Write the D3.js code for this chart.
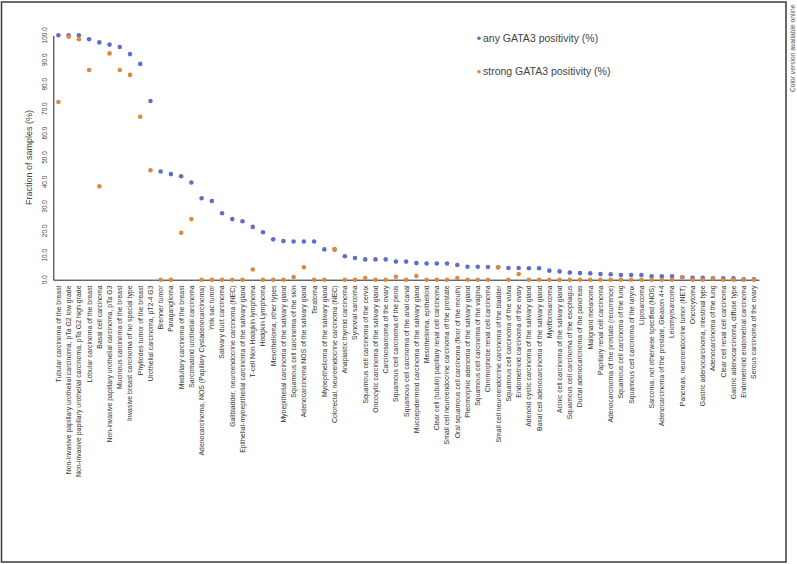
<!DOCTYPE html>
<html><head><meta charset="utf-8">
<script src="https://cdn.jsdelivr.net/npm/d3@7"></script>
<style>body{margin:0;background:#fff}svg{display:block;font-family:"Liberation Sans",Arial,sans-serif}</style>
</head><body>
<script>
const categories = ["Tubular carcinoma of the breast","Non-invasive papillary urothelial carcinoma, pTa G2 low grade","Non-invasive papillary urothelial carcinoma, pTa G2 high grade","Lobular carcinoma of the breast","Basal cell carcinoma","Non-invasive papillary urothelial carcinoma, pTa G3","Mucinous carcinoma of the breast","Invasive breast carcinoma of no special type","Phyllodes tumor of the breast","Urothelial carcinoma, pT2-4 G3","Brenner tumor","Paraganglioma","Medullary carcinoma of the breast","Sarcomatoid urothelial carcinoma","Adenocarcinoma, NOS (Papillary Cystadenocarcinoma)","Yolk sac tumor","Salivary duct carcinoma","Gallbladder, neuroendocrine carcinoma (NEC)","Epithelial-myoepithelial carcinoma of the salivary gland","T-cell Non Hodgkin lymphoma","Hodgkin Lymphoma","Mesothelioma, other types","Myoepithelial carcinoma of the salivary gland","Squamous cell carcinoma of the skin","Adenocarcinoma NOS of the salivary gland","Teratoma","Myoepithelioma of the salivary gland","Colorectal, neuroendocrine carcinoma (NEC)","Anaplastic thyroid carcinoma","Synovial sarcoma","Squamous cell carcinoma of the cervix","Oncocytic carcinoma of the salivary gland","Carcinosarcoma of the ovary","Squamous cell carcinoma of the penis","Squamous cell carcinoma of the anal canal","Mucoepidermoid carcinoma of the salivary gland","Mesothelioma, epithelioid","Clear cell (tubulo) papillary renal cell carcinoma","Small cell neuroendocrine carcinoma of the prostate","Oral squamous cell carcinoma (floor of the mouth)","Pleomorphic adenoma of the salivary gland","Squamous cell carcinoma of the vagina","Chromophobe renal cell carcinoma","Small cell neuroendocrine carcinoma of the bladder","Squamous cell carcinoma of the vulva","Endometrioid carcinoma of the ovary","Adenoid cystic carcinoma of the salivary gland","Basal cell adenocarcinoma of the salivary gland","Myofibrosarcoma","Acinic cell carcinoma of the salivary gland","Squamous cell carcinoma of the esophagus","Ductal adenocarcinoma of the pancreas","Malignant melanoma","Papillary renal cell carcinoma","Adenocarcinoma of the prostate (recurrence)","Squamous cell carcinoma of the lung","Squamous cell carcinoma of the larynx","Liposarcoma","Sarcoma, not otherwise specified (NOS)","Adenocarcinoma of the prostate, Gleason 4+4","Leiomyosarcoma","Pancreas, neuroendocrine tumor (NET)","Oncocytoma","Gastric adenocarcinoma, intestinal type","Adenocarcinoma of the lung","Clear cell renal cell carcinoma","Gastric adenocarcinoma, diffuse type","Endometrioid endometrial carcinoma","Serous carcinoma of the ovary"];
const anyPositivity = [100,100,100,98.4,97.1,96.2,95.2,92.3,88.3,73.1,44.3,43.2,42.3,39.8,33.3,32.2,27.2,24.8,23.9,21.6,19.4,16.5,15.8,15.6,15.6,15.6,12.4,12.4,9.6,8.9,8.3,8.3,8.3,7.4,7.4,6.8,6.6,6.6,6.6,6.0,5.3,5.3,5.2,5.1,4.8,4.8,4.7,4.7,3.7,3.4,2.9,2.7,2.6,2.3,2.2,1.9,1.9,1.9,1.4,1.4,1.4,1.0,0.8,0.8,0.6,0.6,0.6,0.2,0.2];
const strongPositivity = [72.7,99.4,98.4,85.8,38.2,92.6,85.8,83.8,66.7,44.8,0,0,19.2,24.8,0,0,0,0,0,4.2,0,0,0,1.1,5.1,0,0,12.4,0,0,0.7,0,0,1.2,0,1.5,0,0,0,0.7,0,0,0,5.1,0,2.3,0,0,0,0,0,0,0,0,0,0,0,0,0,0,0,1.0,0,0,0.6,0,0,0,0];
const yTicks = [0,10,20,30,40,50,60,70,80,90,100];
const seriesNames = ["any GATA3 positivity (%)","strong GATA3 positivity (%)"];
const colors = ["#5d6fc8","#e0883f"];

const W = 797, H = 564;
const svg = d3.select("body").append("svg").attr("width", W).attr("height", H);

// frame
svg.append("rect").attr("x",1.5).attr("y",2).attr("width",784.5).attr("height",560)
  .attr("fill","none").attr("stroke","#3a3a3a").attr("stroke-width",1.5);

const x = d3.scaleBand().domain(categories).range([53.3, 759]);
const y = d3.scaleLinear().domain([0,100]).range([279.7, 35.3]);

// y axis
const yAxis = svg.append("g").attr("transform","translate(53.3,0)")
  .call(d3.axisLeft(y).tickValues(yTicks).tickSize(0).tickFormat(d3.format(".1f")));
yAxis.select(".domain").attr("stroke","#222").attr("stroke-width",1);
yAxis.selectAll("text").attr("transform", d => `translate(-8.5,0) rotate(-90, 0, ${y(d)})`)
  .attr("x",0).attr("y", d => y(d)).attr("dy","0.35em").attr("text-anchor","middle")
  .attr("font-size","6.5px").attr("fill","#444").attr("font-family","Liberation Sans, Arial, sans-serif");
yAxis.selectAll(".tick").attr("transform", null);

// x axis
const xAxis = svg.append("g").attr("transform","translate(0,279.7)")
  .call(d3.axisBottom(x).tickSize(0));
xAxis.select(".domain").attr("stroke","#222").attr("stroke-width",1);
xAxis.selectAll("text").attr("transform","rotate(-90)").attr("x",-5.8).attr("y",0).attr("dy","0.35em")
  .attr("text-anchor","end").attr("font-size","6.9px").attr("fill","#333")
  .attr("font-family","Liberation Sans, Arial, sans-serif");

// axis title
svg.append("text").attr("transform","translate(32,157.5) rotate(-90)").attr("text-anchor","middle")
  .attr("font-size","9px").attr("fill","#444").text("Fraction of samples (%)");

// dots
const series = [anyPositivity, strongPositivity];
series.forEach((vals, si) => {
  svg.append("g").selectAll("circle").data(vals).join("circle")
    .attr("cx",(d,i)=>x(categories[i]) + x.bandwidth()/2)
    .attr("cy",d=>y(d)).attr("r",2.3).attr("fill",colors[si]);
});

// legend
const leg = svg.append("g");
seriesNames.forEach((n,i)=>{
  const ly = 38.3 + i*33.4;
  leg.append("circle").attr("cx",479).attr("cy",ly).attr("r",1.8).attr("fill",colors[i]);
  leg.append("text").attr("x",483).attr("y",ly).attr("dy","0.35em").attr("font-size","10.5px")
    .attr("fill","#444").text(n);
});

// side note
svg.append("text").attr("transform","translate(794.5,92) rotate(-90)").attr("text-anchor","start")
  .attr("font-size","6.7px").attr("fill","#555").text("Color version available online");
</script>
</body></html>
